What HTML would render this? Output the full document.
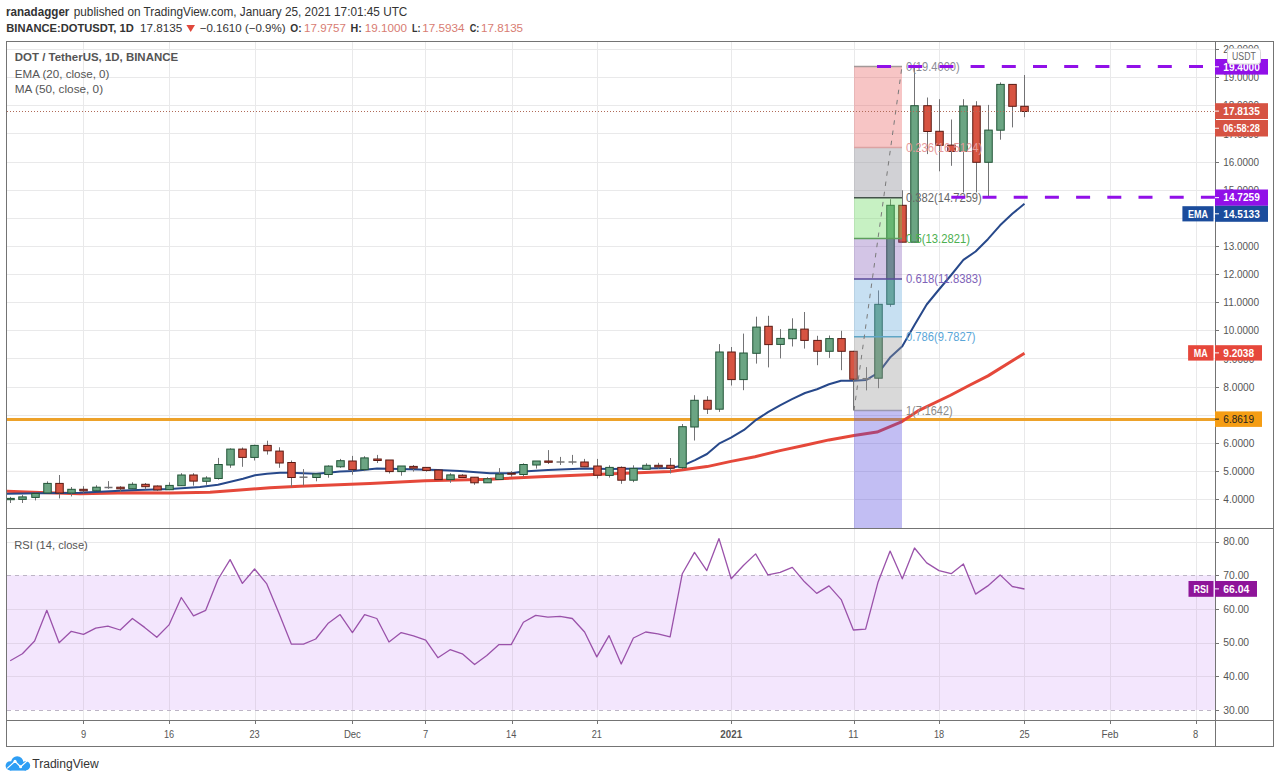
<!DOCTYPE html><html><head><meta charset="utf-8"><style>html,body{margin:0;padding:0;width:1280px;height:781px;overflow:hidden;background:#fff}</style></head><body><svg width="1280" height="781" viewBox="0 0 1280 781" style="position:absolute;left:0;top:0;font-family:'Liberation Sans', sans-serif">
<rect width="1280" height="781" fill="#ffffff"/>
<defs><clipPath id="cm"><rect x="7" y="42" width="1208" height="486"/></clipPath><clipPath id="cr"><rect x="7" y="529" width="1208" height="191"/></clipPath></defs>
<line x1="7" y1="499.5" x2="1215" y2="499.5" stroke="#e9e9ea" stroke-width="1"/>
<line x1="7" y1="471.5" x2="1215" y2="471.5" stroke="#e9e9ea" stroke-width="1"/>
<line x1="7" y1="443.5" x2="1215" y2="443.5" stroke="#e9e9ea" stroke-width="1"/>
<line x1="7" y1="415.5" x2="1215" y2="415.5" stroke="#e9e9ea" stroke-width="1"/>
<line x1="7" y1="387.5" x2="1215" y2="387.5" stroke="#e9e9ea" stroke-width="1"/>
<line x1="7" y1="358.5" x2="1215" y2="358.5" stroke="#e9e9ea" stroke-width="1"/>
<line x1="7" y1="330.5" x2="1215" y2="330.5" stroke="#e9e9ea" stroke-width="1"/>
<line x1="7" y1="302.5" x2="1215" y2="302.5" stroke="#e9e9ea" stroke-width="1"/>
<line x1="7" y1="274.5" x2="1215" y2="274.5" stroke="#e9e9ea" stroke-width="1"/>
<line x1="7" y1="246.5" x2="1215" y2="246.5" stroke="#e9e9ea" stroke-width="1"/>
<line x1="7" y1="218.5" x2="1215" y2="218.5" stroke="#e9e9ea" stroke-width="1"/>
<line x1="7" y1="190.5" x2="1215" y2="190.5" stroke="#e9e9ea" stroke-width="1"/>
<line x1="7" y1="162.5" x2="1215" y2="162.5" stroke="#e9e9ea" stroke-width="1"/>
<line x1="7" y1="133.5" x2="1215" y2="133.5" stroke="#e9e9ea" stroke-width="1"/>
<line x1="7" y1="105.5" x2="1215" y2="105.5" stroke="#e9e9ea" stroke-width="1"/>
<line x1="7" y1="77.5" x2="1215" y2="77.5" stroke="#e9e9ea" stroke-width="1"/>
<line x1="7" y1="49.5" x2="1215" y2="49.5" stroke="#e9e9ea" stroke-width="1"/>
<line x1="83.5" y1="42" x2="83.5" y2="720" stroke="#e9e9ea" stroke-width="1"/>
<line x1="169.5" y1="42" x2="169.5" y2="720" stroke="#e9e9ea" stroke-width="1"/>
<line x1="255.5" y1="42" x2="255.5" y2="720" stroke="#e9e9ea" stroke-width="1"/>
<line x1="352.5" y1="42" x2="352.5" y2="720" stroke="#e9e9ea" stroke-width="1"/>
<line x1="425.5" y1="42" x2="425.5" y2="720" stroke="#e9e9ea" stroke-width="1"/>
<line x1="512.5" y1="42" x2="512.5" y2="720" stroke="#e9e9ea" stroke-width="1"/>
<line x1="597.5" y1="42" x2="597.5" y2="720" stroke="#e9e9ea" stroke-width="1"/>
<line x1="731.5" y1="42" x2="731.5" y2="720" stroke="#e9e9ea" stroke-width="1"/>
<line x1="854.5" y1="42" x2="854.5" y2="720" stroke="#e9e9ea" stroke-width="1"/>
<line x1="939.5" y1="42" x2="939.5" y2="720" stroke="#e9e9ea" stroke-width="1"/>
<line x1="1024.5" y1="42" x2="1024.5" y2="720" stroke="#e9e9ea" stroke-width="1"/>
<line x1="1110.5" y1="42" x2="1110.5" y2="720" stroke="#e9e9ea" stroke-width="1"/>
<line x1="1196.5" y1="42" x2="1196.5" y2="720" stroke="#e9e9ea" stroke-width="1"/>
<line x1="7" y1="676.5" x2="1215" y2="676.5" stroke="#e9e9ea" stroke-width="1"/>
<line x1="7" y1="643.5" x2="1215" y2="643.5" stroke="#e9e9ea" stroke-width="1"/>
<line x1="7" y1="609.5" x2="1215" y2="609.5" stroke="#e9e9ea" stroke-width="1"/>
<line x1="7" y1="542.5" x2="1215" y2="542.5" stroke="#e9e9ea" stroke-width="1"/>
<g clip-path="url(#cm)">
<line x1="7" y1="419.4" x2="1215" y2="419.4" stroke="#eda22a" stroke-width="3"/>
<polyline fill="none" stroke="#e5483a" stroke-width="3" stroke-linejoin="round" points="6,491.3 40,492.5 80,493.8 130,492.8 170,493 210,492.3 240,490 270,487.8 300,486.3 370,483.4 425,480.8 490,479.3 540,476.7 600,474.3 670,471.5 707,466.6 731,461.4 755,456.8 780,450.6 805,445.2 829,439.9 854,435.4 877,432.1 902,421.6 919,410.3 950,395.5 970,385 988,375.9 1024.5,353.3"/>
<polyline fill="none" stroke="#27488a" stroke-width="2" stroke-linejoin="round" points="6,493.8 40,493.3 80,492.8 130,490.3 170,488.9 200,486.9 218,484.8 243,478.8 255,475.2 267,473.7 280,472.7 291,472.7 303,473.2 316,473.7 328,472.7 340,471.6 353,471 377,468.6 400,469 438,470.1 460,471.1 490,473.2 512,473.2 523,471.6 548,470.1 585,468.6 610,468.9 645,468.4 670,467.9 682,465.8 695,460.2 707,454 719,443.7 731,437.6 744,429.9 755,420.7 768,412.2 780,405.3 792,399.2 805,393 817,389.2 829,384.3 841,380.7 854,380.8 866,380.1 873,375.9 878,373.1 882,368.2 890,357.6 902.3,346.3 914.5,325 926.7,304.5 939,289.5 951.2,275 963.4,259.9 975.6,251.5 987.9,239.2 1000.1,225.3 1012.3,213.8 1024.5,203.8"/>
<line x1="10.5" y1="496.9" x2="10.5" y2="503" stroke="#737375" stroke-width="1"/>
<rect x="6.75" y="498.4" width="7.5" height="1.3000000000000114" fill="#6ba583" stroke="#225437" stroke-width="1"/>
<line x1="22.5" y1="494.8" x2="22.5" y2="503" stroke="#737375" stroke-width="1"/>
<rect x="18.75" y="496.9" width="7.5" height="2.5" fill="#6ba583" stroke="#225437" stroke-width="1"/>
<line x1="35.5" y1="492.8" x2="35.5" y2="500.4" stroke="#737375" stroke-width="1"/>
<rect x="31.75" y="493.5" width="7.5" height="3.8999999999999773" fill="#6ba583" stroke="#225437" stroke-width="1"/>
<line x1="47.5" y1="481.4" x2="47.5" y2="493" stroke="#737375" stroke-width="1"/>
<rect x="43.75" y="483.4" width="7.5" height="9.600000000000023" fill="#6ba583" stroke="#225437" stroke-width="1"/>
<line x1="59.5" y1="475" x2="59.5" y2="498.4" stroke="#737375" stroke-width="1"/>
<rect x="55.75" y="483.4" width="7.5" height="9.600000000000023" fill="#d75442" stroke="#5b1a13" stroke-width="1"/>
<line x1="71.5" y1="487" x2="71.5" y2="496.4" stroke="#737375" stroke-width="1"/>
<rect x="67.75" y="489.3" width="7.5" height="3.6999999999999886" fill="#6ba583" stroke="#225437" stroke-width="1"/>
<line x1="83.5" y1="486.2" x2="83.5" y2="492.8" stroke="#737375" stroke-width="1"/>
<rect x="79.75" y="489.3" width="7.5" height="1.5" fill="#d75442" stroke="#5b1a13" stroke-width="1"/>
<line x1="96.5" y1="485.2" x2="96.5" y2="490.8" stroke="#737375" stroke-width="1"/>
<rect x="92.75" y="487.2" width="7.5" height="3.6000000000000227" fill="#6ba583" stroke="#225437" stroke-width="1"/>
<line x1="108.5" y1="481.1" x2="108.5" y2="488.8" stroke="#737375" stroke-width="1"/>
<line x1="104.5" y1="487.5" x2="112.5" y2="487.5" stroke="#737375" stroke-width="1.5"/>
<line x1="120.5" y1="486.2" x2="120.5" y2="491.8" stroke="#737375" stroke-width="1"/>
<rect x="116.75" y="487.2" width="7.5" height="1.6000000000000227" fill="#d75442" stroke="#5b1a13" stroke-width="1"/>
<line x1="132.5" y1="482.3" x2="132.5" y2="488.7" stroke="#737375" stroke-width="1"/>
<rect x="128.75" y="484.3" width="7.5" height="4.399999999999977" fill="#6ba583" stroke="#225437" stroke-width="1"/>
<line x1="145.5" y1="483" x2="145.5" y2="489.4" stroke="#737375" stroke-width="1"/>
<rect x="141.75" y="484.3" width="7.5" height="2.3999999999999773" fill="#d75442" stroke="#5b1a13" stroke-width="1"/>
<line x1="157.5" y1="485.4" x2="157.5" y2="491" stroke="#737375" stroke-width="1"/>
<rect x="153.75" y="486" width="7.5" height="3.8999999999999773" fill="#d75442" stroke="#5b1a13" stroke-width="1"/>
<line x1="169.5" y1="482.3" x2="169.5" y2="489.7" stroke="#737375" stroke-width="1"/>
<rect x="165.75" y="485.4" width="7.5" height="4.300000000000011" fill="#6ba583" stroke="#225437" stroke-width="1"/>
<line x1="181.5" y1="473.2" x2="181.5" y2="485.7" stroke="#737375" stroke-width="1"/>
<rect x="177.75" y="475" width="7.5" height="10.699999999999989" fill="#6ba583" stroke="#225437" stroke-width="1"/>
<line x1="193.5" y1="473.2" x2="193.5" y2="485.7" stroke="#737375" stroke-width="1"/>
<rect x="189.75" y="475" width="7.5" height="6.100000000000023" fill="#d75442" stroke="#5b1a13" stroke-width="1"/>
<line x1="206.5" y1="476.2" x2="206.5" y2="484.8" stroke="#737375" stroke-width="1"/>
<rect x="202.75" y="478" width="7.5" height="3.3000000000000114" fill="#6ba583" stroke="#225437" stroke-width="1"/>
<line x1="218.5" y1="457.9" x2="218.5" y2="479.6" stroke="#737375" stroke-width="1"/>
<rect x="214.75" y="464.5" width="7.5" height="14.0" fill="#6ba583" stroke="#225437" stroke-width="1"/>
<line x1="230.5" y1="448.3" x2="230.5" y2="467.8" stroke="#737375" stroke-width="1"/>
<rect x="226.75" y="449.1" width="7.5" height="15.899999999999977" fill="#6ba583" stroke="#225437" stroke-width="1"/>
<line x1="242.5" y1="447.5" x2="242.5" y2="466.8" stroke="#737375" stroke-width="1"/>
<rect x="238.75" y="449.1" width="7.5" height="8.299999999999955" fill="#d75442" stroke="#5b1a13" stroke-width="1"/>
<line x1="254.5" y1="444.7" x2="254.5" y2="460.5" stroke="#737375" stroke-width="1"/>
<rect x="250.75" y="445.4" width="7.5" height="12.0" fill="#6ba583" stroke="#225437" stroke-width="1"/>
<line x1="267.5" y1="440.7" x2="267.5" y2="454.6" stroke="#737375" stroke-width="1"/>
<rect x="263.75" y="445.4" width="7.5" height="5.400000000000034" fill="#d75442" stroke="#5b1a13" stroke-width="1"/>
<line x1="279.5" y1="447.3" x2="279.5" y2="467.8" stroke="#737375" stroke-width="1"/>
<rect x="275.75" y="451.1" width="7.5" height="11.899999999999977" fill="#d75442" stroke="#5b1a13" stroke-width="1"/>
<line x1="291.5" y1="460.5" x2="291.5" y2="486.9" stroke="#737375" stroke-width="1"/>
<rect x="287.75" y="462.5" width="7.5" height="15.0" fill="#d75442" stroke="#5b1a13" stroke-width="1"/>
<line x1="303.5" y1="469.1" x2="303.5" y2="485.4" stroke="#737375" stroke-width="1"/>
<line x1="299.5" y1="477.2" x2="307.5" y2="477.2" stroke="#737375" stroke-width="1.5"/>
<line x1="316.5" y1="473.9" x2="316.5" y2="481.3" stroke="#737375" stroke-width="1"/>
<rect x="312.75" y="473.9" width="7.5" height="3.6000000000000227" fill="#6ba583" stroke="#225437" stroke-width="1"/>
<line x1="328.5" y1="465.3" x2="328.5" y2="477.7" stroke="#737375" stroke-width="1"/>
<rect x="324.75" y="466.1" width="7.5" height="8.399999999999977" fill="#6ba583" stroke="#225437" stroke-width="1"/>
<line x1="340.5" y1="458.9" x2="340.5" y2="467.8" stroke="#737375" stroke-width="1"/>
<rect x="336.75" y="460.7" width="7.5" height="6.100000000000023" fill="#6ba583" stroke="#225437" stroke-width="1"/>
<line x1="352.5" y1="455.9" x2="352.5" y2="474.7" stroke="#737375" stroke-width="1"/>
<rect x="348.75" y="461" width="7.5" height="8.600000000000023" fill="#d75442" stroke="#5b1a13" stroke-width="1"/>
<line x1="364.5" y1="456.2" x2="364.5" y2="471.1" stroke="#737375" stroke-width="1"/>
<rect x="360.75" y="457.9" width="7.5" height="11.700000000000045" fill="#6ba583" stroke="#225437" stroke-width="1"/>
<line x1="377.5" y1="454.9" x2="377.5" y2="463" stroke="#737375" stroke-width="1"/>
<rect x="373.75" y="459" width="7.5" height="1.5" fill="#d75442" stroke="#5b1a13" stroke-width="1"/>
<line x1="389.5" y1="460" x2="389.5" y2="473.5" stroke="#737375" stroke-width="1"/>
<rect x="385.75" y="460" width="7.5" height="11.600000000000023" fill="#d75442" stroke="#5b1a13" stroke-width="1"/>
<line x1="401.5" y1="466" x2="401.5" y2="475.7" stroke="#737375" stroke-width="1"/>
<rect x="397.75" y="466" width="7.5" height="5.600000000000023" fill="#6ba583" stroke="#225437" stroke-width="1"/>
<line x1="413.5" y1="465" x2="413.5" y2="471.6" stroke="#737375" stroke-width="1"/>
<rect x="409.75" y="466.4" width="7.5" height="1.7000000000000455" fill="#d75442" stroke="#5b1a13" stroke-width="1"/>
<line x1="426.5" y1="467.4" x2="426.5" y2="471.6" stroke="#737375" stroke-width="1"/>
<rect x="422.75" y="467.4" width="7.5" height="3.0" fill="#d75442" stroke="#5b1a13" stroke-width="1"/>
<line x1="438.5" y1="470.1" x2="438.5" y2="479.6" stroke="#737375" stroke-width="1"/>
<rect x="434.75" y="470.1" width="7.5" height="9.5" fill="#d75442" stroke="#5b1a13" stroke-width="1"/>
<line x1="450.5" y1="473.2" x2="450.5" y2="482.8" stroke="#737375" stroke-width="1"/>
<rect x="446.75" y="474.9" width="7.5" height="4.7000000000000455" fill="#6ba583" stroke="#225437" stroke-width="1"/>
<line x1="462.5" y1="474.2" x2="462.5" y2="477.5" stroke="#737375" stroke-width="1"/>
<rect x="458.75" y="475.2" width="7.5" height="2.3000000000000114" fill="#d75442" stroke="#5b1a13" stroke-width="1"/>
<line x1="474.5" y1="477.2" x2="474.5" y2="484.8" stroke="#737375" stroke-width="1"/>
<rect x="470.75" y="477.2" width="7.5" height="5.600000000000023" fill="#d75442" stroke="#5b1a13" stroke-width="1"/>
<line x1="487.5" y1="477.2" x2="487.5" y2="482.8" stroke="#737375" stroke-width="1"/>
<rect x="483.75" y="478.8" width="7.5" height="4.0" fill="#6ba583" stroke="#225437" stroke-width="1"/>
<line x1="499.5" y1="468.1" x2="499.5" y2="479.5" stroke="#737375" stroke-width="1"/>
<rect x="495.75" y="474.2" width="7.5" height="5.300000000000011" fill="#6ba583" stroke="#225437" stroke-width="1"/>
<line x1="511.5" y1="471.1" x2="511.5" y2="476.7" stroke="#737375" stroke-width="1"/>
<rect x="507.75" y="473.2" width="7.5" height="1.0" fill="#d75442" stroke="#5b1a13" stroke-width="1"/>
<line x1="523.5" y1="463.3" x2="523.5" y2="476.7" stroke="#737375" stroke-width="1"/>
<rect x="519.75" y="464.5" width="7.5" height="10.0" fill="#6ba583" stroke="#225437" stroke-width="1"/>
<line x1="536.5" y1="461" x2="536.5" y2="468.6" stroke="#737375" stroke-width="1"/>
<rect x="532.75" y="461" width="7.5" height="4" fill="#6ba583" stroke="#225437" stroke-width="1"/>
<line x1="548.5" y1="450.1" x2="548.5" y2="464" stroke="#737375" stroke-width="1"/>
<rect x="544.75" y="461" width="7.5" height="1.3000000000000114" fill="#d75442" stroke="#5b1a13" stroke-width="1"/>
<line x1="560.5" y1="456.9" x2="560.5" y2="465" stroke="#737375" stroke-width="1"/>
<line x1="556.5" y1="462.0" x2="564.5" y2="462.0" stroke="#737375" stroke-width="1.5"/>
<line x1="572.5" y1="454.9" x2="572.5" y2="464.5" stroke="#737375" stroke-width="1"/>
<line x1="568.5" y1="462.0" x2="576.5" y2="462.0" stroke="#737375" stroke-width="1.5"/>
<line x1="584.5" y1="458.9" x2="584.5" y2="466.8" stroke="#737375" stroke-width="1"/>
<rect x="580.75" y="462" width="7.5" height="4.800000000000011" fill="#d75442" stroke="#5b1a13" stroke-width="1"/>
<line x1="597.5" y1="458.9" x2="597.5" y2="478.5" stroke="#737375" stroke-width="1"/>
<rect x="593.75" y="466" width="7.5" height="9.199999999999989" fill="#d75442" stroke="#5b1a13" stroke-width="1"/>
<line x1="609.5" y1="465.3" x2="609.5" y2="477.6" stroke="#737375" stroke-width="1"/>
<rect x="605.75" y="467.4" width="7.5" height="8.0" fill="#6ba583" stroke="#225437" stroke-width="1"/>
<line x1="621.5" y1="466.4" x2="621.5" y2="483.8" stroke="#737375" stroke-width="1"/>
<rect x="617.75" y="467.4" width="7.5" height="12.800000000000011" fill="#d75442" stroke="#5b1a13" stroke-width="1"/>
<line x1="633.5" y1="465.3" x2="633.5" y2="482.2" stroke="#737375" stroke-width="1"/>
<rect x="629.75" y="468.4" width="7.5" height="11.800000000000011" fill="#6ba583" stroke="#225437" stroke-width="1"/>
<line x1="646.5" y1="463.3" x2="646.5" y2="469.2" stroke="#737375" stroke-width="1"/>
<rect x="642.75" y="465.3" width="7.5" height="3.8999999999999773" fill="#6ba583" stroke="#225437" stroke-width="1"/>
<line x1="658.5" y1="462.8" x2="658.5" y2="468.9" stroke="#737375" stroke-width="1"/>
<rect x="654.75" y="465.3" width="7.5" height="1.599999999999966" fill="#d75442" stroke="#5b1a13" stroke-width="1"/>
<line x1="670.5" y1="458" x2="670.5" y2="473.5" stroke="#737375" stroke-width="1"/>
<rect x="666.75" y="465.3" width="7.5" height="2.8999999999999773" fill="#d75442" stroke="#5b1a13" stroke-width="1"/>
<line x1="682.5" y1="424" x2="682.5" y2="468.9" stroke="#737375" stroke-width="1"/>
<rect x="678.75" y="426.7" width="7.5" height="40.900000000000034" fill="#6ba583" stroke="#225437" stroke-width="1"/>
<line x1="694.5" y1="395.2" x2="694.5" y2="440.5" stroke="#737375" stroke-width="1"/>
<rect x="690.75" y="400.3" width="7.5" height="26.69999999999999" fill="#6ba583" stroke="#225437" stroke-width="1"/>
<line x1="707.5" y1="396.2" x2="707.5" y2="414" stroke="#737375" stroke-width="1"/>
<rect x="703.75" y="400.3" width="7.5" height="8.899999999999977" fill="#d75442" stroke="#5b1a13" stroke-width="1"/>
<line x1="719.5" y1="344.1" x2="719.5" y2="411.9" stroke="#737375" stroke-width="1"/>
<rect x="715.75" y="352" width="7.5" height="57.19999999999999" fill="#6ba583" stroke="#225437" stroke-width="1"/>
<line x1="731.5" y1="347" x2="731.5" y2="385.5" stroke="#737375" stroke-width="1"/>
<rect x="727.75" y="352" width="7.5" height="27.600000000000023" fill="#d75442" stroke="#5b1a13" stroke-width="1"/>
<line x1="743.5" y1="333.6" x2="743.5" y2="390.2" stroke="#737375" stroke-width="1"/>
<rect x="739.75" y="353" width="7.5" height="26.600000000000023" fill="#6ba583" stroke="#225437" stroke-width="1"/>
<line x1="756.5" y1="316.7" x2="756.5" y2="363.6" stroke="#737375" stroke-width="1"/>
<rect x="752.75" y="327.1" width="7.5" height="26.19999999999999" fill="#6ba583" stroke="#225437" stroke-width="1"/>
<line x1="768.5" y1="315.8" x2="768.5" y2="367.4" stroke="#737375" stroke-width="1"/>
<rect x="764.75" y="326.3" width="7.5" height="18.30000000000001" fill="#d75442" stroke="#5b1a13" stroke-width="1"/>
<line x1="780.5" y1="329.1" x2="780.5" y2="358.4" stroke="#737375" stroke-width="1"/>
<rect x="776.75" y="338.4" width="7.5" height="6.0" fill="#6ba583" stroke="#225437" stroke-width="1"/>
<line x1="792.5" y1="318.3" x2="792.5" y2="346.5" stroke="#737375" stroke-width="1"/>
<rect x="788.75" y="329.3" width="7.5" height="9.399999999999977" fill="#6ba583" stroke="#225437" stroke-width="1"/>
<line x1="804.5" y1="312" x2="804.5" y2="348.6" stroke="#737375" stroke-width="1"/>
<rect x="800.75" y="329.1" width="7.5" height="11.299999999999955" fill="#d75442" stroke="#5b1a13" stroke-width="1"/>
<line x1="817.5" y1="335.8" x2="817.5" y2="365.2" stroke="#737375" stroke-width="1"/>
<rect x="813.75" y="340.4" width="7.5" height="10.900000000000034" fill="#d75442" stroke="#5b1a13" stroke-width="1"/>
<line x1="829.5" y1="335.5" x2="829.5" y2="357.9" stroke="#737375" stroke-width="1"/>
<rect x="825.75" y="338.6" width="7.5" height="12.699999999999989" fill="#6ba583" stroke="#225437" stroke-width="1"/>
<line x1="841.5" y1="330.8" x2="841.5" y2="370.2" stroke="#737375" stroke-width="1"/>
<rect x="837.75" y="338.6" width="7.5" height="12.699999999999989" fill="#d75442" stroke="#5b1a13" stroke-width="1"/>
<line x1="853.5" y1="350.8" x2="853.5" y2="410.4" stroke="#737375" stroke-width="1"/>
<rect x="849.75" y="351.3" width="7.5" height="27.899999999999977" fill="#d75442" stroke="#5b1a13" stroke-width="1"/>
<line x1="866.5" y1="367.1" x2="866.5" y2="390.4" stroke="#737375" stroke-width="1"/>
<line x1="862.5" y1="378.7" x2="870.5" y2="378.7" stroke="#737375" stroke-width="1.5"/>
<line x1="878.5" y1="290.4" x2="878.5" y2="388.2" stroke="#737375" stroke-width="1"/>
<rect x="874.75" y="304.3" width="7.5" height="73.89999999999998" fill="#6ba583" stroke="#225437" stroke-width="1"/>
<line x1="890.5" y1="199.2" x2="890.5" y2="306.8" stroke="#737375" stroke-width="1"/>
<rect x="886.75" y="205.3" width="7.5" height="99.0" fill="#6ba583" stroke="#225437" stroke-width="1"/>
<line x1="902.5" y1="190.3" x2="902.5" y2="242.2" stroke="#737375" stroke-width="1"/>
<rect x="898.75" y="205.3" width="7.5" height="36.89999999999998" fill="#d75442" stroke="#5b1a13" stroke-width="1"/>
<line x1="914.5" y1="66.4" x2="914.5" y2="242.2" stroke="#737375" stroke-width="1"/>
<rect x="910.75" y="105.7" width="7.5" height="136.5" fill="#6ba583" stroke="#225437" stroke-width="1"/>
<line x1="927.5" y1="97.5" x2="927.5" y2="154.1" stroke="#737375" stroke-width="1"/>
<rect x="923.75" y="105.7" width="7.5" height="25.799999999999997" fill="#d75442" stroke="#5b1a13" stroke-width="1"/>
<line x1="939.5" y1="99.2" x2="939.5" y2="171.3" stroke="#737375" stroke-width="1"/>
<rect x="935.75" y="131.3" width="7.5" height="14.0" fill="#d75442" stroke="#5b1a13" stroke-width="1"/>
<line x1="951.5" y1="119.5" x2="951.5" y2="165.8" stroke="#737375" stroke-width="1"/>
<rect x="947.75" y="145.1" width="7.5" height="6.300000000000011" fill="#d75442" stroke="#5b1a13" stroke-width="1"/>
<line x1="963.5" y1="99.2" x2="963.5" y2="192.4" stroke="#737375" stroke-width="1"/>
<rect x="959.75" y="106" width="7.5" height="45.400000000000006" fill="#6ba583" stroke="#225437" stroke-width="1"/>
<line x1="976.5" y1="101.2" x2="976.5" y2="192.4" stroke="#737375" stroke-width="1"/>
<rect x="972.75" y="106" width="7.5" height="56.30000000000001" fill="#d75442" stroke="#5b1a13" stroke-width="1"/>
<line x1="988.5" y1="104.9" x2="988.5" y2="197" stroke="#737375" stroke-width="1"/>
<rect x="984.75" y="130.1" width="7.5" height="32.20000000000002" fill="#6ba583" stroke="#225437" stroke-width="1"/>
<line x1="1000.5" y1="82.4" x2="1000.5" y2="139.7" stroke="#737375" stroke-width="1"/>
<rect x="996.75" y="84.4" width="7.5" height="45.79999999999998" fill="#6ba583" stroke="#225437" stroke-width="1"/>
<line x1="1012.5" y1="84.4" x2="1012.5" y2="127.4" stroke="#737375" stroke-width="1"/>
<rect x="1008.75" y="84.4" width="7.5" height="21.89999999999999" fill="#d75442" stroke="#5b1a13" stroke-width="1"/>
<line x1="1024.5" y1="75" x2="1024.5" y2="117.2" stroke="#737375" stroke-width="1"/>
<rect x="1020.75" y="106.3" width="7.5" height="5.200000000000003" fill="#d75442" stroke="#5b1a13" stroke-width="1"/>
<rect x="854" y="66.4" width="48" height="81.184" fill="rgba(232,80,80,0.33)"/>
<rect x="854" y="147.584" width="48" height="50.22400000000002" fill="rgba(140,140,150,0.40)"/>
<rect x="854" y="197.80800000000002" width="48" height="40.591999999999985" fill="rgba(100,215,90,0.36)"/>
<rect x="854" y="238.4" width="48" height="40.591999999999956" fill="rgba(120,80,180,0.33)"/>
<rect x="854" y="278.99199999999996" width="48" height="57.79200000000003" fill="rgba(100,170,220,0.36)"/>
<rect x="854" y="336.784" width="48" height="73.61599999999999" fill="rgba(150,150,150,0.36)"/>
<rect x="854" y="410.4" width="48" height="117.60000000000002" fill="rgba(80,70,220,0.35)"/>
<line x1="854" y1="66.4" x2="902" y2="66.4" stroke="#a39898" stroke-width="1.5"/>
<line x1="854" y1="147.584" x2="902" y2="147.584" stroke="#dba3a3" stroke-width="1.5"/>
<line x1="854" y1="197.80800000000002" x2="902" y2="197.80800000000002" stroke="#44524a" stroke-width="1.5"/>
<line x1="854" y1="238.4" x2="902" y2="238.4" stroke="#5c9e5c" stroke-width="1.5"/>
<line x1="854" y1="278.99199999999996" x2="902" y2="278.99199999999996" stroke="#5a4a9a" stroke-width="1.5"/>
<line x1="854" y1="336.784" x2="902" y2="336.784" stroke="#5fa6c6" stroke-width="1.5"/>
<line x1="854" y1="410.4" x2="902" y2="410.4" stroke="#9a98b0" stroke-width="1.5"/>
<line x1="854" y1="410.4" x2="902" y2="66.4" stroke="#7a7a7a" stroke-width="1" stroke-dasharray="4.5,5.8"/>
<text x="906" y="70.80000000000001" font-size="12" fill="#8b8b95" textLength="53.7" lengthAdjust="spacingAndGlyphs">0(19.4000)</text>
<text x="906" y="151.984" font-size="12" fill="#e79a9a" textLength="76.2" lengthAdjust="spacingAndGlyphs">0.236(16.5124)</text>
<text x="906" y="202.20800000000003" font-size="12" fill="#666666" textLength="75.8" lengthAdjust="spacingAndGlyphs">0.382(14.7259)</text>
<text x="906" y="242.8" font-size="12" fill="#4caf50" textLength="64.1" lengthAdjust="spacingAndGlyphs">0.5(13.2821)</text>
<text x="906" y="283.39199999999994" font-size="12" fill="#7e62b8" textLength="75.8" lengthAdjust="spacingAndGlyphs">0.618(11.8383)</text>
<text x="906" y="341.18399999999997" font-size="12" fill="#5aa6d8" textLength="69.6" lengthAdjust="spacingAndGlyphs">0.786(9.7827)</text>
<text x="906" y="414.79999999999995" font-size="12" fill="#8b8b8b" textLength="46.6" lengthAdjust="spacingAndGlyphs">1(7.1642)</text>
<line x1="877" y1="66.4" x2="1215" y2="66.4" stroke="#9110e8" stroke-width="3" stroke-dasharray="14,17.2"/>
<line x1="951.3" y1="197.2" x2="1215" y2="197.2" stroke="#9110e8" stroke-width="3" stroke-dasharray="14,17.2"/>
<line x1="7" y1="111.5" x2="1215" y2="111.5" stroke="#b06a58" stroke-width="1" stroke-dasharray="1,2"/>
</g>
<g clip-path="url(#cr)">
<rect x="7" y="575.26" width="1208" height="134.64" fill="#f3e6fd"/>
<line x1="7" y1="676.5" x2="1215" y2="676.5" stroke="#e2d5ea" stroke-width="1"/>
<line x1="7" y1="643.5" x2="1215" y2="643.5" stroke="#e2d5ea" stroke-width="1"/>
<line x1="7" y1="609.5" x2="1215" y2="609.5" stroke="#e2d5ea" stroke-width="1"/>
<line x1="83.5" y1="575.26" x2="83.5" y2="709.9" stroke="#e2d5ea" stroke-width="1"/>
<line x1="169.5" y1="575.26" x2="169.5" y2="709.9" stroke="#e2d5ea" stroke-width="1"/>
<line x1="255.5" y1="575.26" x2="255.5" y2="709.9" stroke="#e2d5ea" stroke-width="1"/>
<line x1="352.5" y1="575.26" x2="352.5" y2="709.9" stroke="#e2d5ea" stroke-width="1"/>
<line x1="425.5" y1="575.26" x2="425.5" y2="709.9" stroke="#e2d5ea" stroke-width="1"/>
<line x1="512.5" y1="575.26" x2="512.5" y2="709.9" stroke="#e2d5ea" stroke-width="1"/>
<line x1="597.5" y1="575.26" x2="597.5" y2="709.9" stroke="#e2d5ea" stroke-width="1"/>
<line x1="731.5" y1="575.26" x2="731.5" y2="709.9" stroke="#e2d5ea" stroke-width="1"/>
<line x1="854.5" y1="575.26" x2="854.5" y2="709.9" stroke="#e2d5ea" stroke-width="1"/>
<line x1="939.5" y1="575.26" x2="939.5" y2="709.9" stroke="#e2d5ea" stroke-width="1"/>
<line x1="1024.5" y1="575.26" x2="1024.5" y2="709.9" stroke="#e2d5ea" stroke-width="1"/>
<line x1="1110.5" y1="575.26" x2="1110.5" y2="709.9" stroke="#e2d5ea" stroke-width="1"/>
<line x1="1196.5" y1="575.26" x2="1196.5" y2="709.9" stroke="#e2d5ea" stroke-width="1"/>
<line x1="7" y1="575.5" x2="1215" y2="575.5" stroke="#bdb5c6" stroke-width="1" stroke-dasharray="4,4"/>
<line x1="7" y1="710.5" x2="1215" y2="710.5" stroke="#bdb5c6" stroke-width="1" stroke-dasharray="4,4"/>
<polyline fill="none" stroke="#9a52aa" stroke-width="1.3" stroke-linejoin="round" points="10.2,660.7 22.4,653.8 34.6,641 46.8,610.3 59.1,642.8 71.3,631.3 83.5,634.3 95.7,628.2 107.9,626.2 120.2,630 132.4,618.5 144.6,627.4 156.8,637.2 169.0,624.9 181.3,597.5 193.5,615.9 205.7,610.3 217.9,579.5 230.1,559.6 242.4,583.4 254.6,569 266.8,583.9 279.0,613.3 291.3,644.1 303.5,644.1 315.7,639 327.9,623.6 340.1,614.6 352.4,632.6 364.6,614.6 376.8,618.5 389.0,642 401.2,632.6 413.5,635.9 425.7,640.2 437.9,657.7 450.1,649.7 462.3,653.8 474.6,664.6 486.8,655.6 499.0,644.6 511.2,644.6 523.4,622.3 535.7,615.4 547.9,617.2 560.1,616.4 572.3,618.5 584.6,632 596.8,656.9 609.0,635.6 621.2,664 633.4,638 645.7,632 657.9,633.8 670.1,636.9 682.3,573.7 694.5,552.4 706.8,570.6 719.0,538.6 731.2,578.8 743.4,565.5 755.6,553.9 767.9,574.9 780.1,572.4 792.3,567.3 804.5,581.8 816.7,593.4 829.0,585.9 841.2,599.6 853.4,630 865.6,629.2 877.9,582.6 890.1,551.1 902.3,578.8 914.5,548 926.7,562.9 939.0,570.6 951.2,573.7 963.4,563.9 975.6,594.1 987.8,585.9 1000.1,574.9 1012.3,586.5 1024.5,589"/>
</g>
<rect x="6.5" y="41.5" width="1267.0" height="705.0" fill="none" stroke="#747474" stroke-width="1"/>
<line x1="1215.5" y1="41.5" x2="1215.5" y2="746.5" stroke="#747474" stroke-width="1"/>
<line x1="6.5" y1="528.5" x2="1273.5" y2="528.5" stroke="#747474" stroke-width="1"/>
<line x1="6.5" y1="720.5" x2="1273.5" y2="720.5" stroke="#747474" stroke-width="1"/>
<line x1="1215" y1="499.5" x2="1219" y2="499.5" stroke="#747474" stroke-width="1"/>
<text x="1223.3" y="503.20000000000005" font-size="10" fill="#555555" textLength="31" lengthAdjust="spacingAndGlyphs">4.0000</text>
<line x1="1215" y1="471.5" x2="1219" y2="471.5" stroke="#747474" stroke-width="1"/>
<text x="1223.3" y="475.07000000000005" font-size="10" fill="#555555" textLength="31" lengthAdjust="spacingAndGlyphs">5.0000</text>
<line x1="1215" y1="443.5" x2="1219" y2="443.5" stroke="#747474" stroke-width="1"/>
<text x="1223.3" y="446.94000000000005" font-size="10" fill="#555555" textLength="31" lengthAdjust="spacingAndGlyphs">6.0000</text>
<line x1="1215" y1="387.5" x2="1219" y2="387.5" stroke="#747474" stroke-width="1"/>
<text x="1223.3" y="390.68000000000006" font-size="10" fill="#555555" textLength="31" lengthAdjust="spacingAndGlyphs">8.0000</text>
<line x1="1215" y1="358.5" x2="1219" y2="358.5" stroke="#747474" stroke-width="1"/>
<text x="1223.3" y="362.55000000000007" font-size="10" fill="#555555" textLength="31" lengthAdjust="spacingAndGlyphs">9.0000</text>
<line x1="1215" y1="330.5" x2="1219" y2="330.5" stroke="#747474" stroke-width="1"/>
<text x="1223.3" y="334.4200000000001" font-size="10" fill="#555555" textLength="35.8" lengthAdjust="spacingAndGlyphs">10.0000</text>
<line x1="1215" y1="302.5" x2="1219" y2="302.5" stroke="#747474" stroke-width="1"/>
<text x="1223.3" y="306.2900000000001" font-size="10" fill="#555555" textLength="35.8" lengthAdjust="spacingAndGlyphs">11.0000</text>
<line x1="1215" y1="274.5" x2="1219" y2="274.5" stroke="#747474" stroke-width="1"/>
<text x="1223.3" y="278.1600000000001" font-size="10" fill="#555555" textLength="35.8" lengthAdjust="spacingAndGlyphs">12.0000</text>
<line x1="1215" y1="246.5" x2="1219" y2="246.5" stroke="#747474" stroke-width="1"/>
<text x="1223.3" y="250.03000000000003" font-size="10" fill="#555555" textLength="35.8" lengthAdjust="spacingAndGlyphs">13.0000</text>
<line x1="1215" y1="190.5" x2="1219" y2="190.5" stroke="#747474" stroke-width="1"/>
<text x="1223.3" y="193.77" font-size="10" fill="#555555" textLength="35.8" lengthAdjust="spacingAndGlyphs">15.0000</text>
<line x1="1215" y1="162.5" x2="1219" y2="162.5" stroke="#747474" stroke-width="1"/>
<text x="1223.3" y="165.64000000000001" font-size="10" fill="#555555" textLength="35.8" lengthAdjust="spacingAndGlyphs">16.0000</text>
<line x1="1215" y1="133.5" x2="1219" y2="133.5" stroke="#747474" stroke-width="1"/>
<text x="1223.3" y="137.51000000000002" font-size="10" fill="#555555" textLength="35.8" lengthAdjust="spacingAndGlyphs">17.0000</text>
<line x1="1215" y1="105.5" x2="1219" y2="105.5" stroke="#747474" stroke-width="1"/>
<text x="1223.3" y="109.38000000000002" font-size="10" fill="#555555" textLength="35.8" lengthAdjust="spacingAndGlyphs">18.0000</text>
<line x1="1215" y1="77.5" x2="1219" y2="77.5" stroke="#747474" stroke-width="1"/>
<text x="1223.3" y="81.25000000000003" font-size="10" fill="#555555" textLength="35.8" lengthAdjust="spacingAndGlyphs">19.0000</text>
<line x1="1215" y1="49.5" x2="1219" y2="49.5" stroke="#747474" stroke-width="1"/>
<text x="1223.3" y="53.12000000000004" font-size="10" fill="#555555" textLength="35.8" lengthAdjust="spacingAndGlyphs">20.0000</text>
<line x1="1215" y1="710.5" x2="1219" y2="710.5" stroke="#747474" stroke-width="1"/>
<text x="1223.3" y="713.5" font-size="10" fill="#555555" textLength="25.8" lengthAdjust="spacingAndGlyphs">30.00</text>
<line x1="1215" y1="676.5" x2="1219" y2="676.5" stroke="#747474" stroke-width="1"/>
<text x="1223.3" y="679.84" font-size="10" fill="#555555" textLength="25.8" lengthAdjust="spacingAndGlyphs">40.00</text>
<line x1="1215" y1="643.5" x2="1219" y2="643.5" stroke="#747474" stroke-width="1"/>
<text x="1223.3" y="646.18" font-size="10" fill="#555555" textLength="25.8" lengthAdjust="spacingAndGlyphs">50.00</text>
<line x1="1215" y1="609.5" x2="1219" y2="609.5" stroke="#747474" stroke-width="1"/>
<text x="1223.3" y="612.52" font-size="10" fill="#555555" textLength="25.8" lengthAdjust="spacingAndGlyphs">60.00</text>
<line x1="1215" y1="575.5" x2="1219" y2="575.5" stroke="#747474" stroke-width="1"/>
<text x="1223.3" y="578.86" font-size="10" fill="#555555" textLength="25.8" lengthAdjust="spacingAndGlyphs">70.00</text>
<line x1="1215" y1="542.5" x2="1219" y2="542.5" stroke="#747474" stroke-width="1"/>
<text x="1223.3" y="545.1999999999999" font-size="10" fill="#555555" textLength="25.8" lengthAdjust="spacingAndGlyphs">80.00</text>
<line x1="83.5" y1="720" x2="83.5" y2="724" stroke="#747474" stroke-width="1"/>
<text x="80.9" y="738.4" font-size="11" fill="#555555" textLength="5.2" lengthAdjust="spacingAndGlyphs">9</text>
<line x1="169.5" y1="720" x2="169.5" y2="724" stroke="#747474" stroke-width="1"/>
<text x="163.9" y="738.4" font-size="11" fill="#555555" textLength="10.2" lengthAdjust="spacingAndGlyphs">16</text>
<line x1="255.5" y1="720" x2="255.5" y2="724" stroke="#747474" stroke-width="1"/>
<text x="249.5" y="738.4" font-size="11" fill="#555555" textLength="10.2" lengthAdjust="spacingAndGlyphs">23</text>
<line x1="352.5" y1="720" x2="352.5" y2="724" stroke="#747474" stroke-width="1"/>
<text x="343.9" y="738.4" font-size="11" fill="#555555" textLength="17" lengthAdjust="spacingAndGlyphs">Dec</text>
<line x1="425.5" y1="720" x2="425.5" y2="724" stroke="#747474" stroke-width="1"/>
<text x="423.1" y="738.4" font-size="11" fill="#555555" textLength="5.2" lengthAdjust="spacingAndGlyphs">7</text>
<line x1="512.5" y1="720" x2="512.5" y2="724" stroke="#747474" stroke-width="1"/>
<text x="506.1" y="738.4" font-size="11" fill="#555555" textLength="10.2" lengthAdjust="spacingAndGlyphs">14</text>
<line x1="597.5" y1="720" x2="597.5" y2="724" stroke="#747474" stroke-width="1"/>
<text x="591.7" y="738.4" font-size="11" fill="#555555" textLength="10.2" lengthAdjust="spacingAndGlyphs">21</text>
<line x1="731.5" y1="720" x2="731.5" y2="724" stroke="#747474" stroke-width="1"/>
<text x="720.3" y="738.4" font-size="11" fill="#555555" font-weight="bold" textLength="21.8" lengthAdjust="spacingAndGlyphs">2021</text>
<line x1="854.5" y1="720" x2="854.5" y2="724" stroke="#747474" stroke-width="1"/>
<text x="848.3" y="738.4" font-size="11" fill="#555555" textLength="10.2" lengthAdjust="spacingAndGlyphs">11</text>
<line x1="939.5" y1="720" x2="939.5" y2="724" stroke="#747474" stroke-width="1"/>
<text x="933.9" y="738.4" font-size="11" fill="#555555" textLength="10.2" lengthAdjust="spacingAndGlyphs">18</text>
<line x1="1024.5" y1="720" x2="1024.5" y2="724" stroke="#747474" stroke-width="1"/>
<text x="1019.4" y="738.4" font-size="11" fill="#555555" textLength="10.2" lengthAdjust="spacingAndGlyphs">25</text>
<line x1="1110.5" y1="720" x2="1110.5" y2="724" stroke="#747474" stroke-width="1"/>
<text x="1101.5" y="738.4" font-size="11" fill="#555555" textLength="17" lengthAdjust="spacingAndGlyphs">Feb</text>
<line x1="1196.5" y1="720" x2="1196.5" y2="724" stroke="#747474" stroke-width="1"/>
<text x="1193.0" y="738.4" font-size="11" fill="#555555" textLength="5.2" lengthAdjust="spacingAndGlyphs">8</text>
<rect x="1215" y="59" width="53" height="15.599999999999994" fill="#9110e8"/>
<line x1="1215" y1="66.8" x2="1219" y2="66.8" stroke="#fff" stroke-width="1"/>
<text x="1223.3" y="70.5" font-size="10.5" fill="#fff" font-weight="bold" textLength="36.5" lengthAdjust="spacingAndGlyphs">19.4000</text>
<rect x="1215" y="103.2" width="53" height="15.799999999999997" fill="#d65343"/>
<line x1="1215" y1="111.1" x2="1219" y2="111.1" stroke="#fff" stroke-width="1"/>
<text x="1223.3" y="114.8" font-size="10.5" fill="#fff" font-weight="bold" textLength="36.5" lengthAdjust="spacingAndGlyphs">17.8135</text>
<rect x="1215" y="120" width="53" height="16.5" fill="#d65343"/>
<line x1="1215" y1="128.25" x2="1219" y2="128.25" stroke="#fff" stroke-width="1"/>
<text x="1223.3" y="131.95" font-size="10.5" fill="#fff" font-weight="bold" textLength="36.5" lengthAdjust="spacingAndGlyphs">06:58:28</text>
<rect x="1215" y="189.5" width="53" height="16.30000000000001" fill="#9110e8"/>
<line x1="1215" y1="197.65" x2="1219" y2="197.65" stroke="#fff" stroke-width="1"/>
<text x="1223.3" y="201.35" font-size="10.5" fill="#fff" font-weight="bold" textLength="36.5" lengthAdjust="spacingAndGlyphs">14.7259</text>
<rect x="1215" y="205.8" width="53" height="16.0" fill="#1b4c9c"/>
<line x1="1215" y1="213.8" x2="1219" y2="213.8" stroke="#fff" stroke-width="1"/>
<text x="1223.3" y="217.5" font-size="10.5" fill="#fff" font-weight="bold" textLength="36.5" lengthAdjust="spacingAndGlyphs">14.5133</text>
<rect x="1182.4" y="206.2" width="31.09999999999991" height="15.200000000000017" fill="#1b4c9c"/>
<text x="1187.95" y="217.5" font-size="10.5" fill="#fff" font-weight="bold" textLength="20" lengthAdjust="spacingAndGlyphs">EMA</text>
<rect x="1215" y="345.2" width="47" height="15.400000000000034" fill="#e6473b"/>
<line x1="1215" y1="352.9" x2="1219" y2="352.9" stroke="#fff" stroke-width="1"/>
<text x="1223.3" y="356.59999999999997" font-size="10.5" fill="#fff" font-weight="bold" textLength="30.7" lengthAdjust="spacingAndGlyphs">9.2038</text>
<rect x="1188.1" y="345.2" width="25.40000000000009" height="15.400000000000034" fill="#e6473b"/>
<text x="1193.8" y="356.59999999999997" font-size="10.5" fill="#fff" font-weight="bold" textLength="14" lengthAdjust="spacingAndGlyphs">MA</text>
<rect x="1215" y="411.4" width="47" height="15.5" fill="#f59d14"/>
<line x1="1215" y1="419.15" x2="1219" y2="419.15" stroke="#222222" stroke-width="1"/>
<text x="1223.3" y="422.84999999999997" font-size="10.5" fill="#222222" textLength="30.7" lengthAdjust="spacingAndGlyphs">6.8619</text>
<rect x="1215" y="581" width="42" height="15.799999999999955" fill="#8e1599"/>
<line x1="1215" y1="588.9" x2="1219" y2="588.9" stroke="#fff" stroke-width="1"/>
<text x="1223.3" y="592.6" font-size="10.5" fill="#fff" font-weight="bold" textLength="26" lengthAdjust="spacingAndGlyphs">66.04</text>
<rect x="1188.5" y="581" width="25.0" height="15.799999999999955" fill="#8e1599"/>
<text x="1193.5" y="592.6" font-size="10.5" fill="#fff" font-weight="bold" textLength="15" lengthAdjust="spacingAndGlyphs">RSI</text>
<rect x="1227.5" y="48.5" width="33" height="15.5" rx="3" fill="#fff" stroke="#d8d8d8" stroke-width="1"/>
<text x="1232" y="59.6" font-size="10" fill="#666" textLength="23.8" lengthAdjust="spacingAndGlyphs">USDT</text>
<text x="14.8" y="61.4" font-size="11.6" fill="#555" font-weight="bold" textLength="163.3" lengthAdjust="spacingAndGlyphs">DOT / TetherUS, 1D, BINANCE</text>
<text x="14.8" y="77.5" font-size="11.6" fill="#555" textLength="94.6" lengthAdjust="spacingAndGlyphs">EMA (20, close, 0)</text>
<text x="14.8" y="93.4" font-size="11.6" fill="#555" textLength="88.3" lengthAdjust="spacingAndGlyphs">MA (50, close, 0)</text>
<text x="14.3" y="549.3" font-size="11.6" fill="#555" textLength="73.5" lengthAdjust="spacingAndGlyphs">RSI (14, close)</text>
<text x="6" y="15.9" font-size="12.6" fill="#333333" font-weight="bold" textLength="63.4" lengthAdjust="spacingAndGlyphs">ranadagger</text>
<text x="73.75" y="15.9" font-size="12.6" fill="#333333" textLength="333.6" lengthAdjust="spacingAndGlyphs">published on TradingView.com, January 25, 2021 17:01:45 UTC</text>
<text x="6.25" y="32.0" font-size="11.3" fill="#333333" font-weight="bold" textLength="127.5" lengthAdjust="spacingAndGlyphs">BINANCE:DOTUSDT, 1D</text>
<text x="140" y="32.0" font-size="11.3" fill="#333333" textLength="42.2" lengthAdjust="spacingAndGlyphs">17.8135</text>
<path d="M186.4,25 L195,25 L190.7,32 Z" fill="#e0483c"/>
<text x="199.7" y="32.0" font-size="11.3" fill="#333333" textLength="85.9" lengthAdjust="spacingAndGlyphs">−0.1610 (−0.9%)</text>
<text x="290.3" y="32.0" font-size="11.3" fill="#333333" font-weight="bold" textLength="11.3" lengthAdjust="spacingAndGlyphs">O:</text>
<text x="304.1" y="32.0" font-size="11.3" fill="#d87c72" textLength="41.8" lengthAdjust="spacingAndGlyphs">17.9757</text>
<text x="350.6" y="32.0" font-size="11.3" fill="#333333" font-weight="bold" textLength="11.3" lengthAdjust="spacingAndGlyphs">H:</text>
<text x="364.7" y="32.0" font-size="11.3" fill="#d87c72" textLength="42.2" lengthAdjust="spacingAndGlyphs">19.1000</text>
<text x="411.9" y="32.0" font-size="11.3" fill="#333333" font-weight="bold" textLength="8.5" lengthAdjust="spacingAndGlyphs">L:</text>
<text x="422.3" y="32.0" font-size="11.3" fill="#d87c72" textLength="42.3" lengthAdjust="spacingAndGlyphs">17.5934</text>
<text x="469.7" y="32.0" font-size="11.3" fill="#333333" font-weight="bold" textLength="9.6" lengthAdjust="spacingAndGlyphs">C:</text>
<text x="481" y="32.0" font-size="11.3" fill="#d87c72" textLength="42.1" lengthAdjust="spacingAndGlyphs">17.8135</text>
<g fill="#2e9ef4"><circle cx="10.2" cy="765.8" r="4.6"/><circle cx="17.2" cy="762.3" r="6.1"/><circle cx="25.6" cy="765.8" r="4.6"/><rect x="10" y="765" width="16" height="5.6"/></g>
<polyline points="7.2,768.4 15,761.3 20.6,766.8 27.5,760.6" fill="none" stroke="#fff" stroke-width="1.2" stroke-linejoin="round"/>
<circle cx="15" cy="761.3" r="1.5" fill="#fff"/><circle cx="20.6" cy="766.8" r="1.5" fill="#fff"/>
<text x="32.2" y="767.8" font-size="12" fill="#333333" textLength="66.6" lengthAdjust="spacingAndGlyphs">TradingView</text>
</svg></body></html>
